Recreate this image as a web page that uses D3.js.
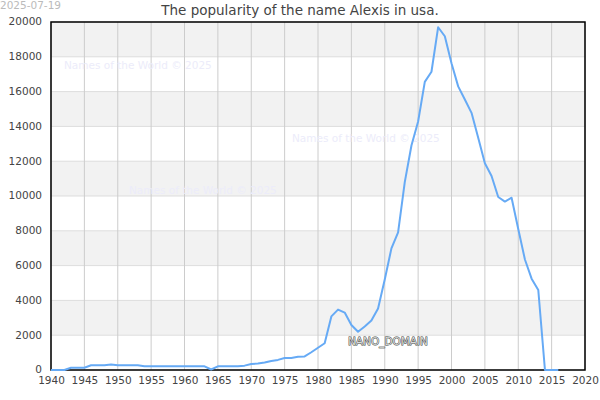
<!DOCTYPE html>
<html><head><meta charset="utf-8">
<script src="https://cdn.jsdelivr.net/npm/d3@7"></script>
<style>body{margin:0;background:#fff;}svg{display:block;font-family:"DejaVu Sans",sans-serif;}</style>
</head><body>
<svg id="chart" width="600" height="400"></svg>
<script>
const years = [1940,1941,1942,1943,1944,1945,1946,1947,1948,1949,1950,1951,1952,1953,1954,1955,1956,1957,1958,1959,1960,1961,1962,1963,1964,1965,1966,1967,1968,1969,1970,1971,1972,1973,1974,1975,1976,1977,1978,1979,1980,1981,1982,1983,1984,1985,1986,1987,1988,1989,1990,1991,1992,1993,1994,1995,1996,1997,1998,1999,2000,2001,2002,2003,2004,2005,2006,2007,2008,2009,2010,2011,2012,2013,2014,2015,2016];
const counts = [0,0,0,130,130,130,270,270,270,320,270,270,270,270,210,210,210,210,210,210,210,210,210,210,30,210,210,210,210,250,350,370,430,520,580,690,690,760,780,1020,1280,1540,3080,3470,3300,2590,2200,2500,2840,3540,5200,6990,7910,10800,12900,14280,16560,17140,19700,19180,17630,16300,15550,14780,13350,11880,11150,9940,9680,9900,8100,6350,5250,4600,0,0,0];
const xTicks = [1940,1945,1950,1955,1960,1965,1970,1975,1980,1985,1990,1995,2000,2005,2010,2015,2020];
const yTicks = [0,2000,4000,6000,8000,10000,12000,14000,16000,18000,20000];
const watermarks = [[64,65],[292,138],[129,190]];

const svg = d3.select("#chart");
const L=51, R=585, T=22, B=370;
const x = d3.scaleLinear().domain([1940,2020]).range([L,R]);
const y = d3.scaleLinear().domain([0,20000]).range([B,T]);

const bands = d3.range(0,20000,2000).filter((d,i)=>i%2===1);
svg.selectAll("rect.band").data(bands).join("rect")
  .attr("x",L).attr("width",R-L)
  .attr("y",d=>y(d+2000)).attr("height",d=>y(d)-y(d+2000))
  .attr("fill","#f2f2f2");

svg.selectAll("line.hg").data(yTicks).join("line")
  .attr("x1",L).attr("x2",R).attr("y1",d=>y(d)).attr("y2",d=>y(d))
  .attr("stroke","#dddddd").attr("stroke-width",1);
svg.selectAll("line.vg").data(xTicks).join("line")
  .attr("y1",T).attr("y2",B).attr("x1",d=>x(d)).attr("x2",d=>x(d))
  .attr("stroke","#cccccc").attr("stroke-width",1);

svg.selectAll("text.wm").data(watermarks).join("text")
  .attr("x",d=>d[0]).attr("y",d=>d[1]+4)
  .attr("font-size",10.5).attr("fill","#ececfa")
  .text("Names of the World © 2025");

svg.append("rect").attr("x",L).attr("y",T).attr("width",R-L).attr("height",B-T)
  .attr("fill","none").attr("stroke","#000").attr("stroke-width",1.5);

svg.append("path").datum(years.map((yr,i)=>[yr,counts[i]]))
  .attr("fill","none").attr("stroke","#66aaf5").attr("stroke-width",2)
  .attr("stroke-linejoin","round")
  .attr("d",d3.line().x(d=>x(d[0])).y(d=>y(d[1])));

const xAxis = svg.append("g").attr("transform",`translate(0,${B})`)
  .call(d3.axisBottom(x).tickValues(xTicks).tickFormat(d3.format("d")).tickSize(0).tickPadding(7));
const yAxis = svg.append("g").attr("transform",`translate(${L},0)`)
  .call(d3.axisLeft(y).tickValues(yTicks).tickFormat(d3.format("d")).tickSize(0).tickPadding(9));
[xAxis,yAxis].forEach(g=>{
  g.select(".domain").remove();
  g.selectAll("text").attr("font-size",10.5).attr("fill","#444").attr("font-family","DejaVu Sans");
});
yAxis.selectAll("text").attr("dy","0.28em");

svg.append("text").attr("x",300).attr("y",15).attr("text-anchor","middle")
  .attr("font-size",13.5).attr("fill","#444").text("The popularity of the name Alexis in usa.");
svg.append("text").attr("x",0).attr("y",9)
  .attr("font-size",10.5).attr("fill","#bbb").text("2025-07-19");

svg.append("text").attr("x",388).attr("y",345).attr("text-anchor","middle")
  .attr("font-size",10.5).attr("fill","#dcdcdc").attr("stroke","#3a3f3a").attr("stroke-width",0.9)
  .attr("paint-order","stroke")
  .text("NANO_DOMAIN");
</script>
</body></html>
